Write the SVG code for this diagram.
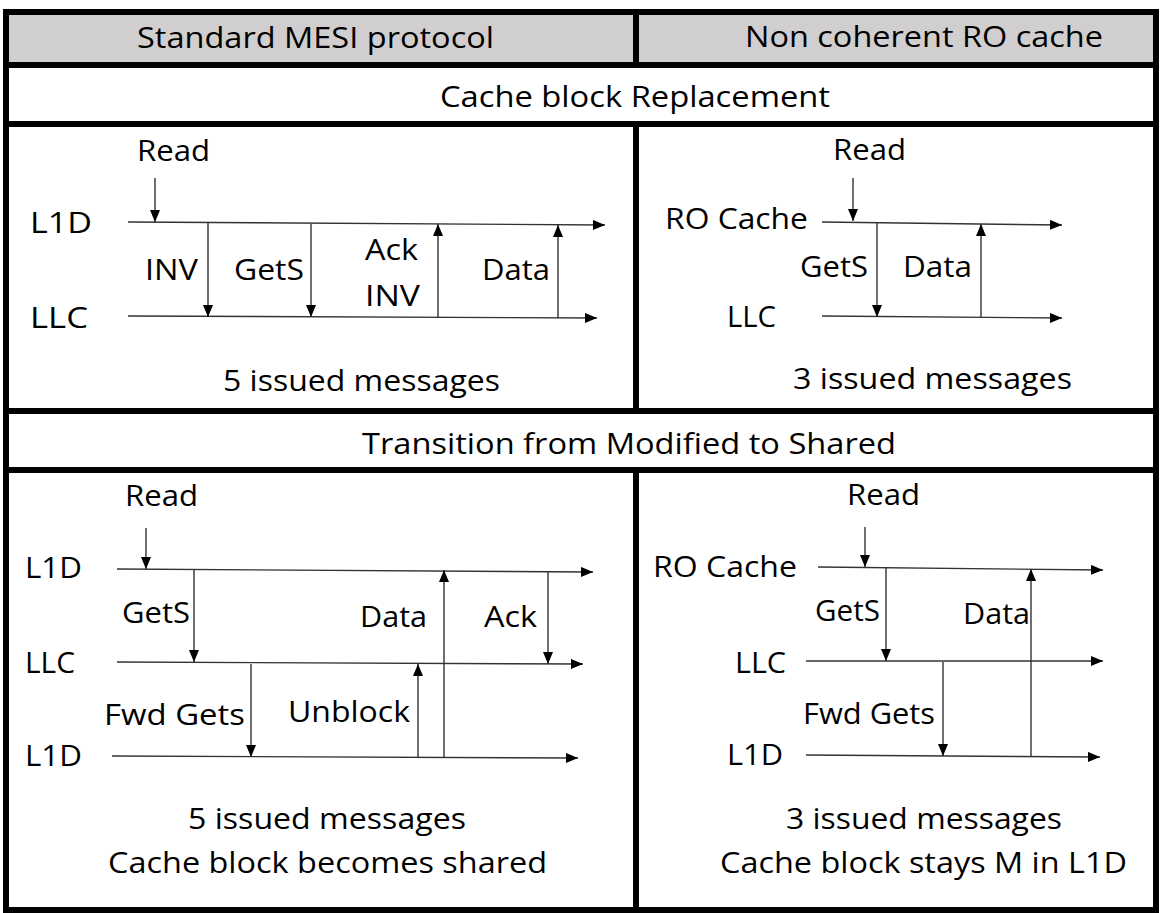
<svg xmlns="http://www.w3.org/2000/svg" width="1162" height="913" viewBox="0 0 1162 913">
<style>
.t{font-family:"Open Sans","Noto Sans",sans-serif;font-size:29px;fill:#000}
.grid{stroke:#000;stroke-width:6;fill:none}
.ln{stroke:#333;stroke-width:1.4;fill:none;marker-end:url(#ah)}
</style>
<defs>
<marker id="ah" markerUnits="userSpaceOnUse" markerWidth="12" markerHeight="10" refX="12" refY="5" orient="auto">
<path d="M0,0 L12,5 L0,10 z" fill="#000"/>
</marker>
</defs>
<rect x="0" y="0" width="1162" height="913" fill="#fff"/>
<g id="grid">
<rect x="6" y="12" width="1150" height="53" fill="#d0cece"/>
<rect class="grid" x="6" y="12" width="1150" height="898"/>
<line class="grid" x1="6" y1="65" x2="1156" y2="65"/>
<line class="grid" x1="6" y1="124" x2="1156" y2="124"/>
<line class="grid" x1="6" y1="411" x2="1156" y2="411"/>
<line class="grid" x1="6" y1="470" x2="1156" y2="470"/>
<line class="grid" x1="636" y1="12" x2="636" y2="65"/>
<line class="grid" x1="636" y1="124" x2="636" y2="411"/>
<line class="grid" x1="636" y1="470" x2="636" y2="910"/>
</g>
<g id="header-mesi"><text class="t" x="137" y="48" textLength="357" lengthAdjust="spacingAndGlyphs">Standard MESI protocol</text></g>
<g id="header-ro"><text class="t" x="745" y="47" textLength="358" lengthAdjust="spacingAndGlyphs">Non coherent RO cache</text></g>
<g id="row-replacement"><text class="t" x="440" y="107" textLength="390" lengthAdjust="spacingAndGlyphs">Cache block Replacement</text></g>
<g id="row-transition"><text class="t" x="362" y="454" textLength="534" lengthAdjust="spacingAndGlyphs">Transition from Modified to Shared</text></g>

<g id="panel-repl-mesi">
<text class="t" x="137" y="161" textLength="73" lengthAdjust="spacingAndGlyphs">Read</text>
<text class="t" x="30" y="233" textLength="62" lengthAdjust="spacingAndGlyphs">L1D</text>
<text class="t" x="30" y="328" textLength="58" lengthAdjust="spacingAndGlyphs">LLC</text>
<text class="t" x="145" y="280" textLength="53" lengthAdjust="spacingAndGlyphs">INV</text>
<text class="t" x="234" y="280" textLength="70" lengthAdjust="spacingAndGlyphs">GetS</text>
<text class="t" x="365" y="260" textLength="53" lengthAdjust="spacingAndGlyphs">Ack</text>
<text class="t" x="365" y="306" textLength="55" lengthAdjust="spacingAndGlyphs">INV</text>
<text class="t" x="482" y="280" textLength="68" lengthAdjust="spacingAndGlyphs">Data</text>
<text class="t" x="223" y="391" textLength="277" lengthAdjust="spacingAndGlyphs">5 issued messages</text>
</g>
<g id="panel-repl-ro">
<text class="t" x="833" y="160" textLength="73" lengthAdjust="spacingAndGlyphs">Read</text>
<text class="t" x="665" y="229" textLength="143" lengthAdjust="spacingAndGlyphs">RO Cache</text>
<text class="t" x="727" y="327" textLength="49" lengthAdjust="spacingAndGlyphs">LLC</text>
<text class="t" x="800" y="277" textLength="68" lengthAdjust="spacingAndGlyphs">GetS</text>
<text class="t" x="903" y="277" textLength="69" lengthAdjust="spacingAndGlyphs">Data</text>
<text class="t" x="793" y="389" textLength="279" lengthAdjust="spacingAndGlyphs">3 issued messages</text>
</g>
<g id="panel-trans-mesi">
<text class="t" x="125" y="506" textLength="73" lengthAdjust="spacingAndGlyphs">Read</text>
<text class="t" x="25" y="578" textLength="57" lengthAdjust="spacingAndGlyphs">L1D</text>
<text class="t" x="25" y="673" textLength="50" lengthAdjust="spacingAndGlyphs">LLC</text>
<text class="t" x="25" y="766" textLength="57" lengthAdjust="spacingAndGlyphs">L1D</text>
<text class="t" x="122" y="623" textLength="68" lengthAdjust="spacingAndGlyphs">GetS</text>
<text class="t" x="360" y="627" textLength="67" lengthAdjust="spacingAndGlyphs">Data</text>
<text class="t" x="484" y="627" textLength="53" lengthAdjust="spacingAndGlyphs">Ack</text>
<text class="t" x="104" y="725" textLength="141" lengthAdjust="spacingAndGlyphs">Fwd Gets</text>
<text class="t" x="288" y="722" textLength="122" lengthAdjust="spacingAndGlyphs">Unblock</text>
<text class="t" x="188" y="829" textLength="278" lengthAdjust="spacingAndGlyphs">5 issued messages</text>
<text class="t" x="108" y="873" textLength="439" lengthAdjust="spacingAndGlyphs">Cache block becomes shared</text>
</g>
<g id="panel-trans-ro">
<text class="t" x="847" y="505" textLength="73" lengthAdjust="spacingAndGlyphs">Read</text>
<text class="t" x="653" y="577" textLength="144" lengthAdjust="spacingAndGlyphs">RO Cache</text>
<text class="t" x="735" y="673" textLength="51" lengthAdjust="spacingAndGlyphs">LLC</text>
<text class="t" x="727" y="765" textLength="56" lengthAdjust="spacingAndGlyphs">L1D</text>
<text class="t" x="815" y="621" textLength="65" lengthAdjust="spacingAndGlyphs">GetS</text>
<text class="t" x="963" y="624" textLength="67" lengthAdjust="spacingAndGlyphs">Data</text>
<text class="t" x="803" y="724" textLength="132" lengthAdjust="spacingAndGlyphs">Fwd Gets</text>
<text class="t" x="786" y="829" textLength="276" lengthAdjust="spacingAndGlyphs">3 issued messages</text>
<text class="t" x="720" y="873" textLength="407" lengthAdjust="spacingAndGlyphs">Cache block stays M in L1D</text>
</g>

<g id="connectors">
<line class="ln" x1="128" y1="222" x2="605" y2="225"/>
<line class="ln" x1="128" y1="316" x2="597" y2="318"/>
<line class="ln" x1="155" y1="178" x2="155" y2="222"/>
<line class="ln" x1="208" y1="223" x2="208" y2="317"/>
<line class="ln" x1="311" y1="224" x2="311" y2="317"/>
<line class="ln" x1="438" y1="318" x2="438" y2="224"/>
<line class="ln" x1="558" y1="318" x2="558" y2="225"/>
<line class="ln" x1="822" y1="222" x2="1062" y2="225"/>
<line class="ln" x1="822" y1="316" x2="1062" y2="318"/>
<line class="ln" x1="853" y1="178" x2="853" y2="221"/>
<line class="ln" x1="877" y1="223" x2="877" y2="317"/>
<line class="ln" x1="981" y1="317" x2="981" y2="224"/>
<line class="ln" x1="117" y1="569" x2="593" y2="572"/>
<line class="ln" x1="117" y1="662" x2="583" y2="664"/>
<line class="ln" x1="112" y1="756" x2="578" y2="758"/>
<line class="ln" x1="146" y1="528" x2="146" y2="569"/>
<line class="ln" x1="194" y1="570" x2="194" y2="662"/>
<line class="ln" x1="548" y1="571" x2="548" y2="664"/>
<line class="ln" x1="444" y1="758" x2="444" y2="570"/>
<line class="ln" x1="251" y1="664" x2="251" y2="757"/>
<line class="ln" x1="418" y1="758" x2="418" y2="664"/>
<line class="ln" x1="818" y1="567" x2="1103" y2="570"/>
<line class="ln" x1="806" y1="661" x2="1103" y2="661"/>
<line class="ln" x1="806" y1="755" x2="1100" y2="757"/>
<line class="ln" x1="865" y1="527" x2="865" y2="567"/>
<line class="ln" x1="886" y1="568" x2="886" y2="661"/>
<line class="ln" x1="943" y1="662" x2="943" y2="756"/>
<line class="ln" x1="1031" y1="756" x2="1031" y2="569"/>
</g>
</svg>
